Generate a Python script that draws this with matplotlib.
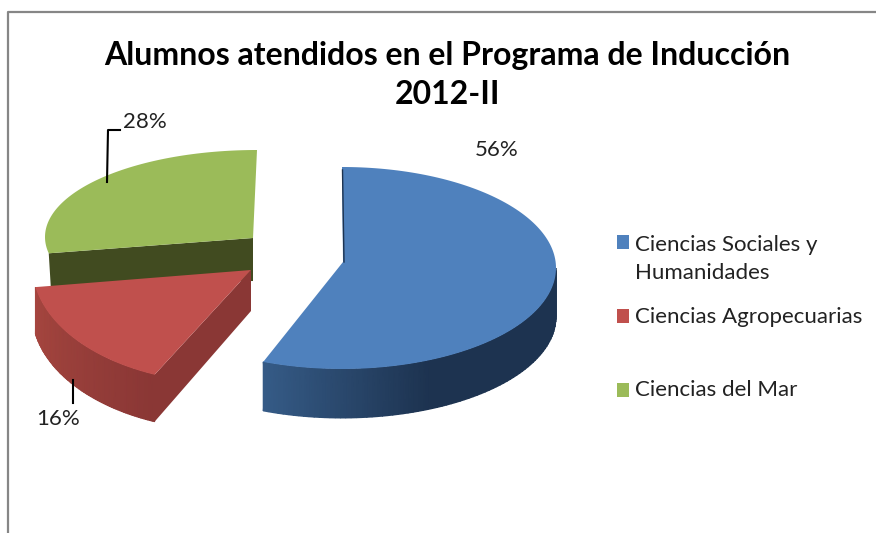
import numpy as np
import matplotlib
matplotlib.use('Agg')
import matplotlib.pyplot as plt
from matplotlib.colors import LinearSegmentedColormap

categories = ['Ciencias Sociales y\nHumanidades', 'Ciencias Agropecuarias', 'Ciencias del Mar']
shares = [56, 16, 28]
title = 'Alumnos atendidos en el Programa de Inducción\n2012-II'

colors = ['#4f81bd', '#c0504d', '#9bbb59']
wall_from = ['#1d3350', '#a6463f', '#414b20']
wall_to = ['#365c88', '#8a3735', '#414b20']

# pixel geometry of each slice: centre x, y, radius x, y
slices = [(342, 268, 214, 101), (226, 265, 194, 118), (257, 237, 212, 87)]
apex = [(343, 262), (251, 270), (253, 238)]
depth = [49, 47, 34]

plt.rcParams['font.family'] = ['Lato', 'DejaVu Sans']

fig = plt.figure(figsize=(8.76, 5.33), dpi=100)
ax = fig.add_axes([0, 0, 1, 1])
ax.set_xlim(0, 876)
ax.set_ylim(533, 0)
ax.axis('off')

ax.plot([8, 8, 876], [533, 12, 12], color='#868686', lw=1.6)


def arc(geom, a0, a1, n=80):
    cx, cy, rx, ry = geom
    a = np.radians(np.linspace(a0, a1, n))
    return cx + rx * np.sin(a), cy - ry * np.cos(a)


def wall(x, y, d, c0, c1, t):
    cmap = LinearSegmentedColormap.from_list('w', [c0, c1])
    X = np.vstack([x, x])
    Y = np.vstack([y, y + d])
    ax.pcolormesh(X, Y, np.vstack([t, t]), cmap=cmap, vmin=0, vmax=1, shading='gouraud')


edges = np.cumsum([0] + shares) * 3.6
starts, ends = edges[:-1], edges[1:]

# leader lines sit behind the slices
ax.plot([107, 108, 120], [182, 130, 130], color='black', lw=1.5)
ax.plot([73, 73], [380, 403], color='black', lw=1.5)

# green
x, y = arc(slices[2], starts[2], ends[2])
ax.fill([x[0], apex[2][0], apex[2][0], x[0] + 2], [y[0], apex[2][1], apex[2][1] + 43, y[0] + 33],
        color=wall_to[2], lw=0)
ax.fill(np.r_[x, apex[2][0]], np.r_[y, apex[2][1]], color=colors[2], lw=0)

# red
x, y = arc(slices[1], starts[1], ends[1])
ax.fill([x[0], apex[1][0], apex[1][0], x[0]],
        [y[0], apex[1][1], apex[1][1] + 41, y[0] + depth[1]], color=wall_to[1], lw=0)
wall(x, y, depth[1], wall_to[1], wall_from[1], np.linspace(0, 1, len(x)))
ax.fill(np.r_[x, apex[1][0]], np.r_[y, apex[1][1]], color=colors[1], lw=0)

# blue
x, y = arc(slices[0], starts[0], ends[0], n=160)
xs, ys = arc(slices[0], 90, ends[0], n=80)
wall(xs, ys, depth[0], wall_from[0], wall_to[0], np.clip((430 - xs) / 170, 0, 1))
ax.fill(np.r_[x, apex[0][0]], np.r_[y, apex[0][1]], color=colors[0], lw=0)
ax.plot([x[0] + 0.5, apex[0][0] + 1], [y[0] + 3, apex[0][1]], color='#1d3350', lw=1)

ax.text(447, 75, title, ha='center', va='center', fontsize=23, fontweight='bold',
        color='black', linespacing=1.44)

label_pos = [(497, 150), (58, 419), (145, 122)]
for s, p in zip(shares, label_pos):
    ax.text(p[0], p[1], f'{s}%', ha='center', va='center', fontsize=16, color='#222222')

legend_y = [242, 316, 390]
text_y = [259, 317, 390]
for name, col, ly, ty in zip(categories, colors, legend_y, text_y):
    ax.fill([617, 629, 629, 617], [ly - 7, ly - 7, ly + 7, ly + 7], color=col, lw=0)
    ax.text(635, ty, name, ha='left', va='center', fontsize=16, color='#222222', linespacing=1.5)

fig.savefig('out.png', dpi=100)
